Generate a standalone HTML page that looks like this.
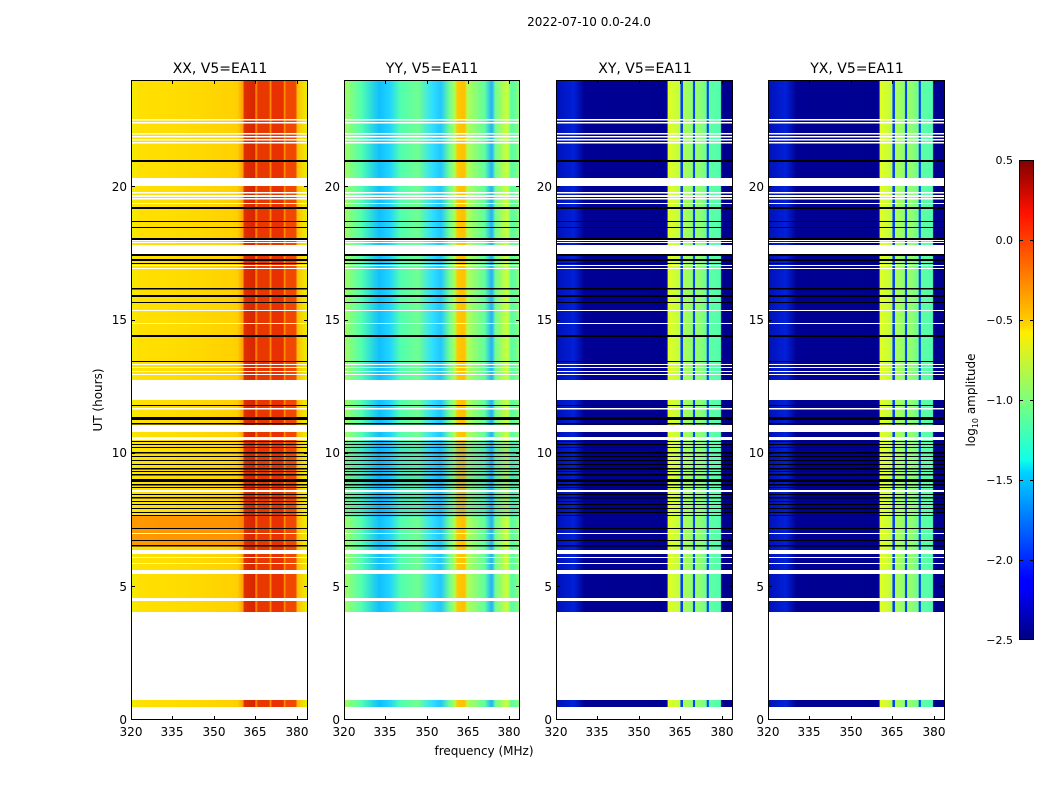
<!DOCTYPE html>
<html><head><meta charset="utf-8"><style>
html,body{margin:0;padding:0;background:#fff;}
svg{display:block;font-family:"DejaVu Sans","Liberation Sans",sans-serif;}
</style></head><body>
<svg width="1050" height="800" viewBox="0 0 1050 800" xmlns="http://www.w3.org/2000/svg">
<defs>
<linearGradient id="gxx" x1="0" x2="1" y1="0" y2="0">
<stop offset="0" stop-color="#f0f000"/><stop offset="0.05" stop-color="#ffe000"/><stop offset="0.3" stop-color="#ffdc00"/>
<stop offset="0.6" stop-color="#ffd000"/><stop offset="0.632" stop-color="#ffa000"/>
<stop offset="0.64" stop-color="#e03000"/><stop offset="0.70" stop-color="#d82400"/><stop offset="0.706" stop-color="#ff9800"/>
<stop offset="0.717" stop-color="#e83800"/><stop offset="0.78" stop-color="#e83800"/><stop offset="0.788" stop-color="#ffa000"/>
<stop offset="0.797" stop-color="#e83000"/><stop offset="0.86" stop-color="#e83000"/><stop offset="0.868" stop-color="#ffa000"/>
<stop offset="0.876" stop-color="#f04800"/><stop offset="0.93" stop-color="#f04800"/><stop offset="0.94" stop-color="#ffc000"/>
<stop offset="1" stop-color="#e8f400"/>
</linearGradient>
<linearGradient id="gyy" x1="0" x2="1" y1="0" y2="0">
<stop offset="0" stop-color="#a0ff60"/><stop offset="0.1" stop-color="#50ffb0"/><stop offset="0.2" stop-color="#10c0ff"/>
<stop offset="0.26" stop-color="#20d4ff"/><stop offset="0.32" stop-color="#50ffb0"/><stop offset="0.42" stop-color="#70ff90"/>
<stop offset="0.5" stop-color="#30e0ff"/><stop offset="0.55" stop-color="#20c8ff"/><stop offset="0.6" stop-color="#70ff90"/>
<stop offset="0.63" stop-color="#b0ff50"/><stop offset="0.645" stop-color="#ffc800"/><stop offset="0.685" stop-color="#ffc000"/>
<stop offset="0.70" stop-color="#b0ff50"/><stop offset="0.8" stop-color="#60ffa0"/><stop offset="0.84" stop-color="#20b0ff"/>
<stop offset="0.86" stop-color="#70ff90"/><stop offset="0.93" stop-color="#d0ff30"/><stop offset="0.95" stop-color="#50ffb0"/>
<stop offset="1" stop-color="#90ff70"/>
</linearGradient>
<linearGradient id="gxy" x1="0" x2="1" y1="0" y2="0">
<stop offset="0" stop-color="#0010b8"/><stop offset="0.1" stop-color="#0020d8"/><stop offset="0.16" stop-color="#000094"/>
<stop offset="0.62" stop-color="#000090"/><stop offset="0.628" stop-color="#0000c0"/>
<stop offset="0.633" stop-color="#e0ff20"/><stop offset="0.70" stop-color="#c0ff40"/><stop offset="0.706" stop-color="#0040ff"/>
<stop offset="0.716" stop-color="#0040ff"/><stop offset="0.718" stop-color="#b0ff50"/><stop offset="0.772" stop-color="#90ff70"/>
<stop offset="0.776" stop-color="#0040ff"/><stop offset="0.784" stop-color="#0040ff"/><stop offset="0.787" stop-color="#a0ff60"/>
<stop offset="0.85" stop-color="#70ff90"/><stop offset="0.853" stop-color="#0040ff"/><stop offset="0.862" stop-color="#0040ff"/>
<stop offset="0.865" stop-color="#60ffa0"/><stop offset="0.93" stop-color="#50ffb0"/><stop offset="0.935" stop-color="#000090"/>
<stop offset="1" stop-color="#000090"/>
</linearGradient>
<linearGradient id="gcb" x1="0" x2="0" y1="1" y2="0">
<stop offset="0" stop-color="#000080"/><stop offset="0.11" stop-color="#0000ff"/><stop offset="0.125" stop-color="#0000ff"/>
<stop offset="0.35" stop-color="#00d4ff"/><stop offset="0.375" stop-color="#10ffe8"/><stop offset="0.5" stop-color="#7dff7a"/>
<stop offset="0.64" stop-color="#ffee00"/><stop offset="0.66" stop-color="#ffd000"/><stop offset="0.89" stop-color="#ff1000"/>
<stop offset="1" stop-color="#800000"/>
</linearGradient>
<g id="ov">
<g fill="#fff">
<rect x="0" y="119" width="177" height="1.5"/><rect x="0" y="122" width="177" height="1.5"/>
<rect x="0" y="133" width="177" height="1.5"/><rect x="0" y="136" width="177" height="1.5"/>
<rect x="0" y="139" width="177" height="1.5"/><rect x="0" y="142" width="177" height="1.5"/>
<rect x="0" y="178" width="177" height="8"/><rect x="0" y="192" width="177" height="1.5"/>
<rect x="0" y="195" width="177" height="2"/><rect x="0" y="198" width="177" height="1.5"/>
<rect x="0" y="203" width="177" height="1"/><rect x="0" y="240" width="177" height="1"/>
<rect x="0" y="242" width="177" height="1"/><rect x="0" y="245" width="177" height="9"/>
<rect x="0" y="265" width="177" height="1"/><rect x="0" y="268" width="177" height="1"/>
<rect x="0" y="310" width="177" height="1"/><rect x="0" y="323" width="177" height="1"/>
<rect x="0" y="364" width="177" height="1"/><rect x="0" y="367" width="177" height="1"/>
<rect x="0" y="371" width="177" height="1"/><rect x="0" y="374" width="177" height="1"/>
<rect x="0" y="380" width="177" height="20"/><rect x="0" y="408" width="177" height="1.5"/>
<rect x="0" y="425" width="177" height="7"/><rect x="0" y="437" width="177" height="3"/>
<rect x="0" y="490" width="177" height="2"/><rect x="0" y="533" width="177" height="1"/>
<rect x="0" y="550" width="177" height="4"/><rect x="0" y="557" width="177" height="1"/>
<rect x="0" y="563" width="177" height="1"/><rect x="0" y="570" width="177" height="4"/>
<rect x="0" y="598" width="177" height="3"/>
<rect x="0" y="612" width="177" height="88"/>
</g>
<g fill="#000">
<rect x="0" y="160" width="177" height="2"/><rect x="0" y="207" width="177" height="2"/>
<rect x="0" y="221" width="177" height="1"/><rect x="0" y="227" width="177" height="1"/>
<rect x="0" y="238" width="177" height="2"/><rect x="0" y="254" width="177" height="2"/>
<rect x="0" y="259" width="177" height="2"/><rect x="0" y="263" width="177" height="1"/>
<rect x="0" y="288" width="177" height="1.5"/><rect x="0" y="295" width="177" height="2"/>
<rect x="0" y="302" width="177" height="1"/><rect x="0" y="335" width="177" height="2"/>
<rect x="0" y="361" width="177" height="1"/><rect x="0" y="405" width="177" height="1"/>
<rect x="0" y="417" width="177" height="3"/><rect x="0" y="423" width="177" height="1.5"/>
<rect x="0" y="441" width="177" height="1"/><rect x="0" y="444" width="177" height="1"/>
<rect x="0" y="447" width="177" height="1"/><rect x="0" y="452" width="177" height="1.5"/>
<rect x="0" y="456" width="177" height="1"/><rect x="0" y="460" width="177" height="1"/>
<rect x="0" y="464" width="177" height="1"/><rect x="0" y="468" width="177" height="1.5"/>
<rect x="0" y="471" width="177" height="1"/><rect x="0" y="474" width="177" height="1.5"/>
<rect x="0" y="479" width="177" height="3"/><rect x="0" y="484" width="177" height="1.5"/>
<rect x="0" y="487" width="177" height="1"/><rect x="0" y="494" width="177" height="1"/>
<rect x="0" y="497" width="177" height="1.5"/><rect x="0" y="501" width="177" height="1"/>
<rect x="0" y="504" width="177" height="1"/><rect x="0" y="508" width="177" height="1"/>
<rect x="0" y="512" width="177" height="1"/><rect x="0" y="515" width="177" height="1"/>
<rect x="0" y="528" width="177" height="1"/><rect x="0" y="540" width="177" height="1"/>
<rect x="0" y="545" width="177" height="1.5"/>
</g>
</g>
</defs>

<rect x="131" y="80" width="177" height="532" fill="url(#gxx)"/>
<rect x="131" y="700" width="177" height="7" fill="url(#gxx)"/>
<rect x="131" y="516" width="113" height="30" fill="#ff7800" opacity="0.7"/>
<rect x="344" y="80" width="176" height="532" fill="url(#gyy)"/>
<rect x="344" y="700" width="176" height="7" fill="url(#gyy)"/>
<rect x="344" y="442" width="176" height="75" fill="#0080ff" opacity="0.2"/>
<rect x="556" y="80" width="177" height="532" fill="url(#gxy)"/>
<rect x="556" y="700" width="177" height="7" fill="url(#gxy)"/>
<rect x="768" y="80" width="177" height="532" fill="url(#gxy)"/>
<rect x="768" y="700" width="177" height="7" fill="url(#gxy)"/>

<use href="#ov" x="131"/>
<use href="#ov" x="344"/>
<use href="#ov" x="556"/>
<use href="#ov" x="768"/>
<rect x="131" y="707" width="900" height="13" fill="#fff"/>
<rect x="520" y="80" width="36" height="640" fill="#fff"/>
<rect x="733" y="80" width="35" height="640" fill="#fff"/>

<g fill="none" stroke="#000" stroke-width="1">
<rect x="131.5" y="80.5" width="176" height="639"/>
<rect x="344.5" y="80.5" width="175" height="639"/>
<rect x="556.5" y="80.5" width="176" height="639"/>
<rect x="768.5" y="80.5" width="176" height="639"/>
</g>
<g stroke="#000" stroke-width="1">
<path d="M131 186.5h4M131 320.5h4M131 453.5h4M131 586.5h4M304 186.5h4M304 320.5h4M304 453.5h4M304 586.5h4"/>
<path d="M344 186.5h4M344 320.5h4M344 453.5h4M344 586.5h4M516 186.5h4M516 320.5h4M516 453.5h4M516 586.5h4"/>
<path d="M556 186.5h4M556 320.5h4M556 453.5h4M556 586.5h4M729 186.5h4M729 320.5h4M729 453.5h4M729 586.5h4"/>
<path d="M768 186.5h4M768 320.5h4M768 453.5h4M768 586.5h4M941 186.5h4M941 320.5h4M941 453.5h4M941 586.5h4"/>
<path d="M172.5 720v-4M214.5 720v-4M255.5 720v-4M297.5 720v-4M172.5 80v4M214.5 80v4M255.5 80v4M297.5 80v4"/>
<path d="M385.5 720v-4M427.5 720v-4M468.5 720v-4M509.5 720v-4M385.5 80v4M427.5 80v4M468.5 80v4M509.5 80v4"/>
<path d="M597.5 720v-4M639.5 720v-4M680.5 720v-4M722.5 720v-4M597.5 80v4M639.5 80v4M680.5 80v4M722.5 80v4"/>
<path d="M809.5 720v-4M851.5 720v-4M892.5 720v-4M934.5 720v-4M809.5 80v4M851.5 80v4M892.5 80v4M934.5 80v4"/>
</g>

<g font-size="12" fill="#000" text-anchor="end">
<text x="127" y="724">0</text><text x="127" y="591">5</text><text x="127" y="457">10</text><text x="127" y="324">15</text><text x="127" y="191">20</text>
<text x="340" y="724">0</text><text x="340" y="591">5</text><text x="340" y="457">10</text><text x="340" y="324">15</text><text x="340" y="191">20</text>
<text x="552" y="724">0</text><text x="552" y="591">5</text><text x="552" y="457">10</text><text x="552" y="324">15</text><text x="552" y="191">20</text>
<text x="764" y="724">0</text><text x="764" y="591">5</text><text x="764" y="457">10</text><text x="764" y="324">15</text><text x="764" y="191">20</text>
</g>
<g font-size="12" fill="#000" text-anchor="middle">
<text x="131" y="736">320</text><text x="172" y="736">335</text><text x="214" y="736">350</text><text x="255" y="736">365</text><text x="297" y="736">380</text>
<text x="344" y="736">320</text><text x="385" y="736">335</text><text x="427" y="736">350</text><text x="468" y="736">365</text><text x="509" y="736">380</text>
<text x="556" y="736">320</text><text x="597" y="736">335</text><text x="639" y="736">350</text><text x="680" y="736">365</text><text x="722" y="736">380</text>
<text x="768" y="736">320</text><text x="809" y="736">335</text><text x="851" y="736">350</text><text x="892" y="736">365</text><text x="934" y="736">380</text>
</g>
<g font-size="14" fill="#000" text-anchor="middle">
<text x="220" y="73">XX, V5=EA11</text>
<text x="432" y="73">YY, V5=EA11</text>
<text x="645" y="73">XY, V5=EA11</text>
<text x="857" y="73">YX, V5=EA11</text>
</g>
<text x="589" y="26" font-size="12" text-anchor="middle">2022-07-10 0.0-24.0</text>
<text x="484" y="755" font-size="12" text-anchor="middle">frequency (MHz)</text>
<text transform="translate(102,400) rotate(-90)" font-size="12" text-anchor="middle">UT (hours)</text>

<rect x="1019" y="160" width="15" height="480" fill="url(#gcb)"/>
<rect x="1019.5" y="160.5" width="14" height="479" fill="none" stroke="#000"/>
<g stroke="#000"><path d="M1019 240.5h4M1030 240.5h4M1019 320.5h4M1030 320.5h4M1019 400.5h4M1030 400.5h4M1019 480.5h4M1030 480.5h4M1019 560.5h4M1030 560.5h4"/></g>
<g font-size="11" text-anchor="end">
<text x="1013" y="164">0.5</text><text x="1013" y="244">0.0</text><text x="1013" y="324">−0.5</text>
<text x="1013" y="404">−1.0</text><text x="1013" y="484">−1.5</text><text x="1013" y="564">−2.0</text><text x="1013" y="644">−2.5</text>
</g>
<text transform="translate(975,400) rotate(-90)" font-size="12" text-anchor="middle">log<tspan font-size="8" dy="3">10</tspan><tspan dy="-3"> amplitude</tspan></text>
</svg>
</body></html>
